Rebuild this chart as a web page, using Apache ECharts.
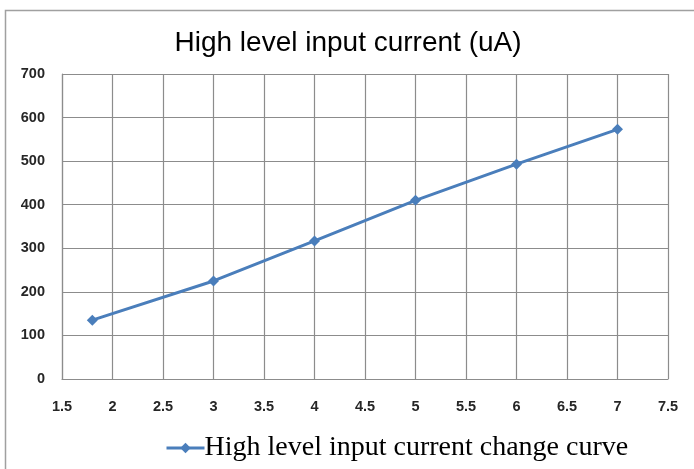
<!DOCTYPE html>
<html><head><meta charset="utf-8">
<script src="https://cdn.jsdelivr.net/npm/echarts@6/dist/echarts.min.js"></script>
<style>html,body{margin:0;padding:0;background:#fff}#c{width:694px;height:469px}</style>
</head><body><div id="c"></div>
<script>
const voltages = [1.8, 3, 4, 5, 6, 7];
const currents = [135, 225, 317, 410, 493, 573];
const seriesName = 'High level input current change curve';
const titleText = 'High level input current (uA)';

const chart = echarts.init(document.getElementById('c'), null, {renderer: 'canvas'});
const axisLabelStyle = {color: '#262626', fontFamily: 'Liberation Sans', fontWeight: 'bold', fontSize: 14.5};
chart.setOption({
  animation: false,
  backgroundColor: '#fff',
  graphic: [{
    type: 'polyline', shape: {points: [[5.5, 469], [5.5, 10.5], [694, 10.5]]},
    style: {stroke: '#a0a0a0', lineWidth: 1.5, fill: null}
  }],
  title: {
    text: titleText, left: 343, top: 24, textAlign: 'center',
    textStyle: {fontFamily: 'Liberation Sans', fontWeight: 'normal', fontSize: 28, color: '#000'}
  },
  legend: {
    left: 160, top: 429, itemWidth: 38, itemHeight: 13, itemGap: 2,
    lineStyle: {width: 3},
    textStyle: {fontFamily: 'Liberation Serif', fontSize: 28, color: '#000', padding: [0, 0, 0, -5]},
    data: [{name: seriesName}]
  },
  grid: {left: 62, right: 26, top: 74, bottom: 90},
  xAxis: {
    type: 'value', min: 1.5, max: 7.5, interval: 0.5,
    axisLine: {show: true, lineStyle: {color: '#8c8c8c', width: 1.2}},
    axisTick: {show: false},
    axisLabel: Object.assign({margin: 20}, axisLabelStyle),
    splitLine: {show: true, lineStyle: {color: '#8c8c8c', width: 1.2}}
  },
  yAxis: {
    type: 'value', min: 0, max: 700, interval: 100,
    axisLine: {show: true, lineStyle: {color: '#8c8c8c', width: 1.2}},
    axisTick: {show: false},
    axisLabel: Object.assign({margin: 17}, axisLabelStyle),
    splitLine: {show: true, lineStyle: {color: '#8c8c8c', width: 1.2}}
  },
  series: [{
    name: seriesName, type: 'line',
    data: voltages.map((v, i) => [v, currents[i]]),
    symbol: 'diamond', symbolSize: 11,
    lineStyle: {color: '#4a7ebb', width: 3},
    itemStyle: {color: '#4a7ebb'}
  }]
});
</script></body></html>
